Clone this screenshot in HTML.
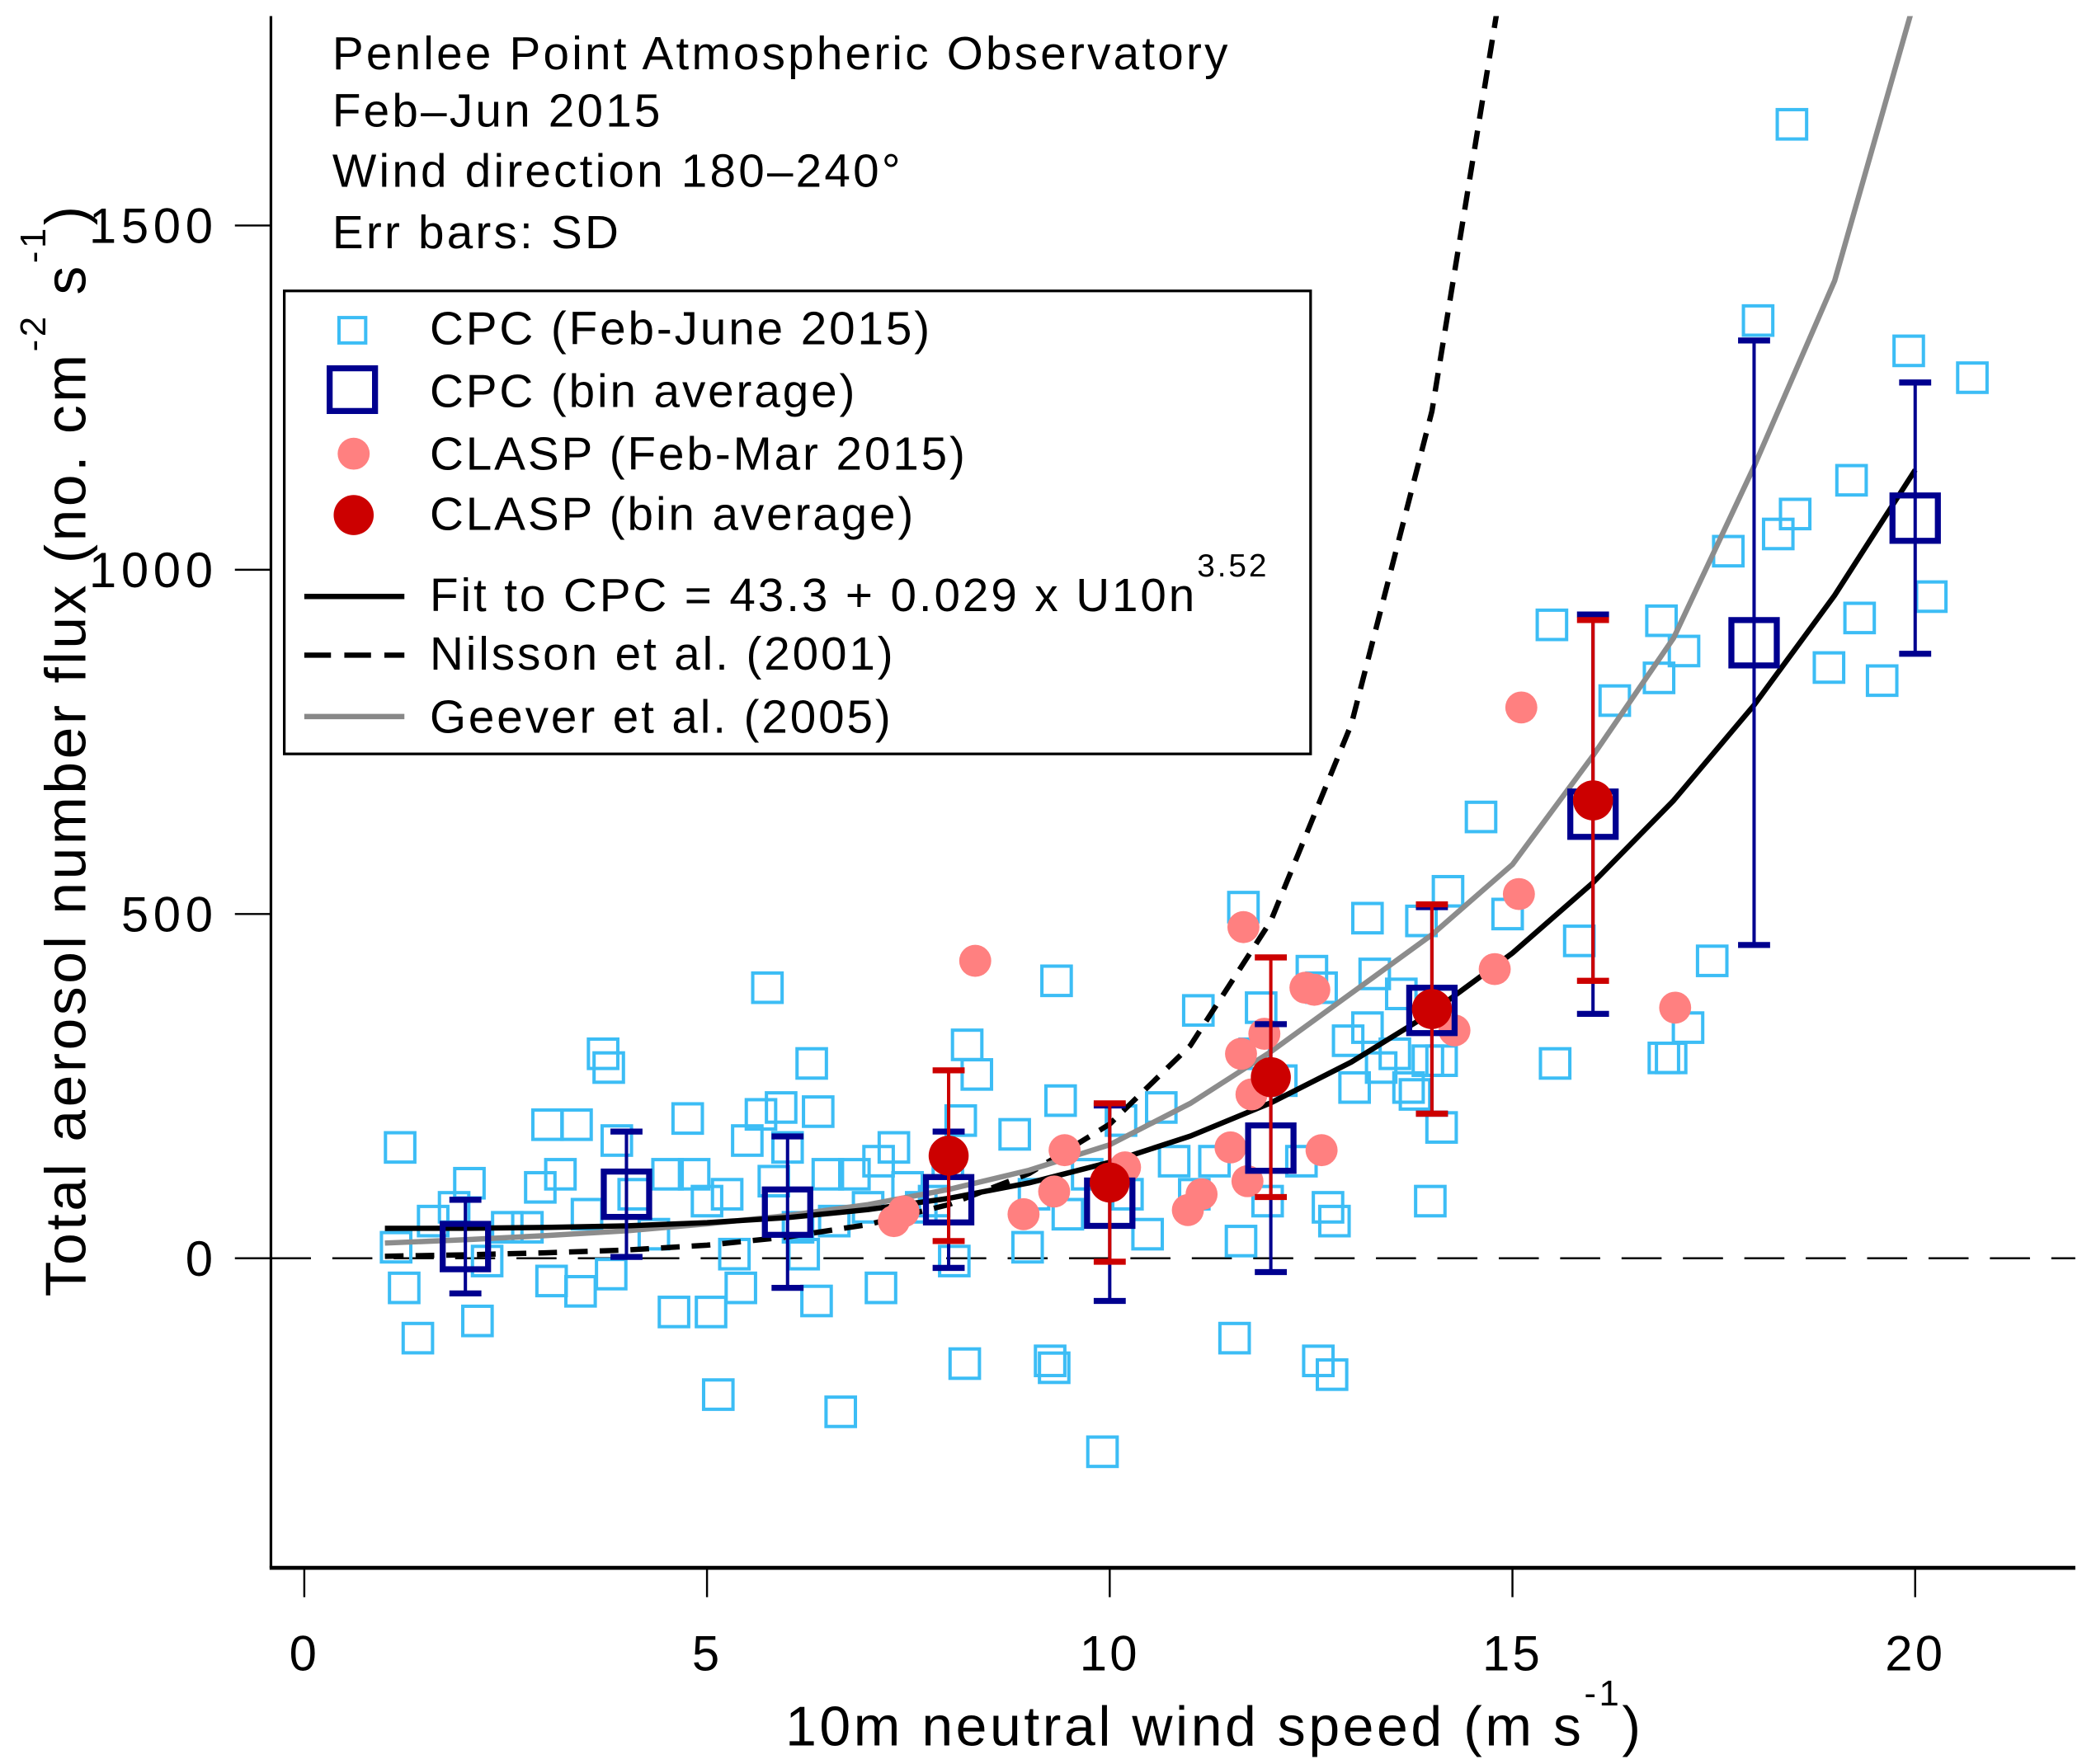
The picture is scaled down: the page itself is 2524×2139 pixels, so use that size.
<!DOCTYPE html>
<html><head><meta charset="utf-8"><style>
html,body{margin:0;padding:0;background:#fff}
svg{display:block}
text{font-family:"Liberation Sans",sans-serif;fill:#000}
</style></head><body>
<svg id="chart" width="2524" height="2139" viewBox="0 0 1560 1322" xmlns="http://www.w3.org/2000/svg">
<defs><clipPath id="plotclip"><rect x="203" y="12" width="1352" height="1163"/></clipPath></defs>
<g id="marks" clip-path="url(#plotclip)"></g>
<g id="axes"></g>
<g font-size="35" letter-spacing="2">
<text x="249" y="52">Penlee Point Atmospheric Observatory</text>
<text x="249" y="95">Feb–Jun 2015</text>
<text x="249" y="140">Wind direction 180–240°</text>
<text x="249" y="186">Err bars: SD</text>
</g>
<g>
<rect x="213" y="218" width="769" height="347" fill="#fff" stroke="#000" stroke-width="2"/>
<rect x="254" y="238" width="20" height="19" fill="none" stroke="#3cbdf5" stroke-width="2.5"/>
<rect x="247" y="276" width="34" height="32" fill="none" stroke="#00008f" stroke-width="4.5"/>
<circle cx="265" cy="340" r="12" fill="#ff8080"/>
<circle cx="265" cy="386" r="15" fill="#cc0000"/>
<line x1="228" y1="447" x2="303" y2="447" stroke="#000" stroke-width="4"/>
<line x1="228" y1="491" x2="303" y2="491" stroke="#000" stroke-width="4" stroke-dasharray="20,10"/>
<line x1="228" y1="537" x2="303" y2="537" stroke="#888" stroke-width="4"/>
<g font-size="35" letter-spacing="1.8">
<text x="322" y="258">CPC (Feb-June 2015)</text>
<text x="322" y="305">CPC (bin average)</text>
<text x="322" y="352">CLASP (Feb-Mar 2015)</text>
<text x="322" y="397">CLASP (bin average)</text>
<text x="322" y="458">Fit to CPC = 43.3 + 0.029 x U10n<tspan font-size="24" dy="-26">3.52</tspan></text>
<text x="322" y="502">Nilsson et al. (2001)</text>
<text x="322" y="549">Geever et al. (2005)</text>
</g>
</g>
<text x="910" y="1308" font-size="42" letter-spacing="2.2" text-anchor="middle">10m neutral wind speed (m s<tspan font-size="27" dy="-30">-1</tspan><tspan dy="30">)</tspan></text>
<text transform="translate(64,562) rotate(-90)" font-size="43" letter-spacing="2.2" text-anchor="middle">Total aerosol number flux (no. cm<tspan font-size="27" dy="-30">-2</tspan><tspan dy="30"> s</tspan><tspan font-size="27" dy="-30">-1</tspan><tspan dy="30">)</tspan></text>
</svg>
<script>
const cpcX=[1.19,1.14,1.24,1.41,1.6,1.86,2.05,2.15,2.27,2.52,2.77,2.93,3.02,3.18,3.38,3.07,3.43,3.51,3.71,3.78,3.88,3.81,4.09,4.34,4.51,4.59,4.76,4.84,5.0,5.05,5.14,5.25,5.34,5.42,5.5,5.75,5.67,5.83,5.92,6.0,6.13,6.2,6.3,6.38,6.36,6.5,6.58,6.66,6.83,7.0,7.13,7.16,7.32,7.49,7.66,7.82,7.99,8.07,8.15,8.23,8.2,8.35,8.82,8.98,9.06,9.26,9.31,9.34,9.39,9.48,9.72,9.91,10.14,10.22,10.47,10.64,10.8,11.05,11.1,11.3,11.55,11.63,11.66,11.8,11.88,11.96,12.13,12.38,12.51,12.63,12.59,12.76,12.71,12.79,12.96,13.04,13.2,13.2,13.29,13.37,13.54,13.62,13.71,13.79,13.87,13.95,13.98,14.12,14.2,14.12,14.61,14.94,15.49,15.53,15.83,16.27,16.82,16.85,16.88,17.13,16.97,17.18,17.48,17.68,18.05,18.3,18.47,18.51,18.93,19.21,19.31,19.59,19.92,20.2,20.71];
const cpcY=[161,16,-43,-116,54,74,109,-91,-4,45,45,103,194,122,194,-33,-48,64,297,277,171,-23,93,35,122,-78,203,122,83,-78,-198,93,6,-43,171,393,209,112,219,161,45,6,283,213,-62,122,54,-223,122,74,141,-43,161,103,74,83,141,-4,200,310,-153,267,180,16,93,-149,-159,403,229,64,122,-281,200,93,35,219,141,93,360,141,-116,25,510,297,364,83,258,141,417,393,-149,-169,74,54,316,248,494,335,413,277,297,384,248,238,490,287,83,190,533,287,641,500,920,283,461,810,843,926,291,882,291,335,432,1027,1362,1052,1647,1081,858,1130,930,839,1318,961,1279];
const claspX=[7.32,7.44,8.33,8.93,9.31,9.44,10.19,10.97,11.14,11.5,11.63,11.66,11.71,11.76,11.92,12.43,12.54,12.63,14.28,14.78,15.08,15.11,17.02];
const claspY=[54,68,432,64,97,157,132,70,93,161,297,481,112,238,326,393,390,157,331,420,529,800,364];
const cpcBinX=[2,4,6,8,10,12,14,16,18,20];
const cpcBinMean=[17,93,67,85,80,160,360,645,894,1075];
const cpcBinSD=[68,91,110,99,142,180,150,290,439,197];
const claspBinX=[8,10,12,14,16];
const claspBinMean=[149,110,263,362,665];
const claspBinSD=[124,115,174,152,262];
const fitA=43.3, fitB=0.029, fitP=3.52;
const nilssonX=[1,2,3,4,5,6,7,8,9,10,11,12,13,14,15];
const nilssonY=[3,5,8,12,19,31,49,78,123,195,309,490,776,1230,1950];
const geeverX=[1,2,3,4,5,6,7,8,9,10,11,12,13,14,15,16,17,18,19,20];
const geeverY=[22,27,33,40,50,62,78,100,128,165,225,300,385,470,572,730,901,1150,1420,1830];
const xTicks=[0,5,10,15,20];
const yTicks=[0,500,1000,1500];
const fitU=[1,2,3,4,5,6,7,8,9,10,11,12,13,14,15,16,17,18,19,20];

const NS='http://www.w3.org/2000/svg';
const X=v=>228+v*60.35, Y=v=>943-v*0.516;
function mk(tag,attrs,parent){const e=document.createElementNS(NS,tag);for(const k in attrs)e.setAttribute(k,attrs[k]);parent.appendChild(e);return e;}
const marks=document.getElementById('marks'), axes=document.getElementById('axes');

let z=mk('line',{x1:203,y1:Y(0),x2:1555,y2:Y(0),stroke:'#000','stroke-width':1.6,'stroke-dasharray':'30,16'},marks);



cpcX.forEach((x,i)=>{const r=mk('rect',{x:X(x)-11,y:Y(cpcY[i])-11,width:22,height:22,fill:'none',stroke:'#3cbdf5','stroke-width':2.5},marks);

});

function pathFrom(xs,ys){return xs.map((x,i)=>(i?'L':'M')+X(x).toFixed(1)+','+Y(ys[i]).toFixed(1)).join('');}
const fitY=fitU.map(u=>fitA+fitB*Math.pow(u,fitP));
let p=mk('path',{d:pathFrom(nilssonX,nilssonY),fill:'none',stroke:'#000','stroke-width':4,'stroke-dasharray':'14,9'},marks);


p=mk('path',{d:pathFrom(geeverX,geeverY),fill:'none',stroke:'#8c8c8c','stroke-width':4},marks);


p=mk('path',{d:pathFrom(fitU,fitY),fill:'none',stroke:'#000','stroke-width':4},marks);



claspX.forEach((x,i)=>{const c=mk('circle',{cx:X(x),cy:Y(claspY[i]),r:12,fill:'#ff8080'},marks);

});

function errbar(x,m,s,col,name){const g=mk('g',{stroke:col,'stroke-width':2.5},marks);


mk('line',{x1:X(x),y1:Y(m+s),x2:X(x),y2:Y(m-s)},g);
mk('line',{x1:X(x)-12,y1:Y(m+s),x2:X(x)+12,y2:Y(m+s),'stroke-width':4.5},g);
mk('line',{x1:X(x)-12,y1:Y(m-s),x2:X(x)+12,y2:Y(m-s),'stroke-width':4.5},g);}
cpcBinX.forEach((x,i)=>{errbar(x,cpcBinMean[i],cpcBinSD[i],'#00008f','cpc-bin-errorbar');
const r=mk('rect',{x:X(x)-17,y:Y(cpcBinMean[i])-17,width:34,height:34,fill:'none',stroke:'#00008f','stroke-width':4.5},marks);

});
claspBinX.forEach((x,i)=>{errbar(x,claspBinMean[i],claspBinSD[i],'#cc0000','clasp-bin-errorbar');
const c=mk('circle',{cx:X(x),cy:Y(claspBinMean[i]),r:15,fill:'#cc0000'},marks);

});

let a=mk('line',{x1:203,y1:12,x2:203,y2:1175,stroke:'#000','stroke-width':2},axes);


a=mk('line',{x1:202,y1:1175,x2:1555,y2:1175,stroke:'#000','stroke-width':3},axes);


xTicks.forEach(t=>{mk('line',{x1:X(t),y1:1175,x2:X(t),y2:1197,stroke:'#000','stroke-width':1.5},axes);
const tx=mk('text',{x:X(t),y:1252,'font-size':37,'letter-spacing':2,'text-anchor':'middle'},axes);tx.textContent=t;

});
yTicks.forEach(t=>{mk('line',{x1:176,y1:Y(t),x2:203,y2:Y(t),stroke:'#000','stroke-width':1.5},axes);
const tx=mk('text',{x:163,y:Y(t)+13,'font-size':37,'letter-spacing':3.5,'text-anchor':'end'},axes);tx.textContent=t;

});
</script>
</body></html>
